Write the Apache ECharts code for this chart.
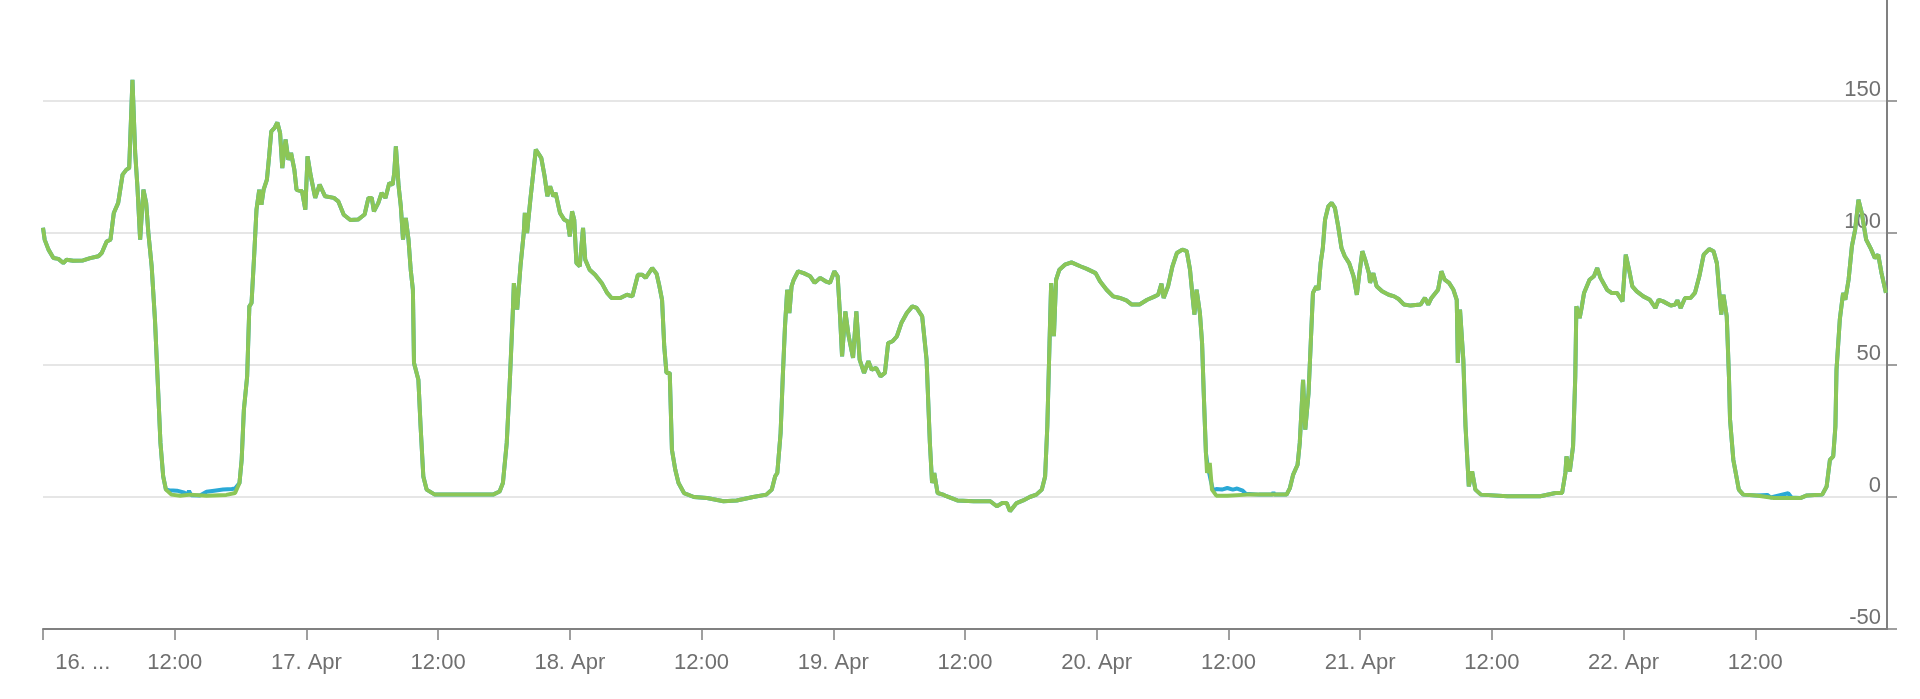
<!DOCTYPE html>
<html>
<head>
<meta charset="utf-8">
<script src="https://cdn.jsdelivr.net/npm/echarts@6/dist/echarts.min.js"></script>
<style>
    html, body { margin: 0; padding: 0; background: #fff; }
    #chart_power { width: 1920px; height: 699px; }
</style>
</head>
<body>
<div id="chart_power"></div>
<script>
// hours since 16 Apr 00:00, value
var greenPts = [
    [0.0,102],[0.15,97.5],[0.5,93.7],[0.95,90.5],[1.4,90.2],[1.85,88.6],[2.15,89.9],[2.75,89.5],[3.65,89.6],[4.3,90.5],
    [5.05,91.2],[5.35,92.4],[5.8,96.8],[6.15,97.5],[6.45,107.6],[6.85,111.4],[7.25,122.1],[7.6,124],[7.85,124.6],[8.15,158],
    [8.4,130.3],[8.6,117.7],[8.85,97.5],[9.15,116.4],[9.4,111.4],[9.6,100],[9.9,87.4],[10.2,67.2],[10.5,39.4],[10.7,20.5],
    [10.95,7.8],[11.2,2.8],[11.7,0.9],[12.5,0.5],[13.4,0.9],[14.9,0.5],[16.7,0.8],[17.5,1.5],[17.9,5.3],[18.1,14.1],
    [18.3,33],[18.6,45.7],[18.8,72.2],[19.0,73.5],[19.25,92.4],[19.45,108.8],[19.7,116.4],[19.9,110.7],[20.1,116.4],[20.4,120.2],
    [20.6,129],[20.8,138.5],[21.1,139.8],[21.35,141.9],[21.6,137.9],[21.8,124.6],[22.1,135.4],[22.35,127.8],[22.6,130.3],[22.9,124],
    [23.1,116.4],[23.6,115.8],[23.9,108.8],[24.1,129],[24.4,121.5],[24.8,113.3],[25.2,118.3],[25.7,113.9],[26.5,113.3],[26.9,112],
    [27.4,106.9],[28.0,104.9],[28.7,105.1],[29.3,107],[29.65,113.3],[29.95,113.3],[30.15,108.2],[30.55,111.4],[30.85,115.2],[31.2,113.3],
    [31.55,118.9],[31.85,118.3],[32.0,122.7],[32.15,132.8],[32.4,117.7],[32.6,110.1],[32.8,97.5],[33.05,105.7],[33.3,97.5],[33.5,86.1],
    [33.7,78.5],[33.8,50.8],[34.2,44.4],[34.4,26.8],[34.65,7.8],[34.95,2.8],[35.7,0.9],[37.7,0.9],[41.0,0.9],[41.6,2.1],
    [41.9,5.3],[42.25,20.5],[42.55,45.7],[42.8,69.7],[42.9,81],[43.2,71],[43.5,87.4],[43.8,100],[43.9,107.6],[44.1,100],
    [44.4,112.6],[44.7,124],[44.9,131.6],[45.2,129.7],[45.4,128.4],[45.7,121.5],[45.95,113.9],[46.2,117.7],[46.5,113.9],[46.7,115.2],
    [47.1,107.6],[47.5,105],[47.8,104.4],[48.0,98.7],[48.2,108.2],[48.4,105],[48.6,88.6],[48.9,87.4],[49.2,101.9],[49.4,89.9],
    [49.8,86.1],[50.3,84.2],[50.9,81.1],[51.4,77.3],[51.8,75.4],[52.6,75.4],[53.2,76.6],[53.7,76],[54.2,84.2],[54.6,84.2],
    [54.9,83],[55.5,86.7],[55.9,84.6],[56.15,80],[56.4,74.7],[56.6,57],[56.8,47],[57.1,47],[57.3,17.9],[57.6,10.4],
    [57.9,5.3],[58.4,1.5],[59.3,0],[60.5,-0.4],[62.0,-1.6],[63.2,-1.3],[64.7,0],[65.9,0.9],[66.4,2.8],[66.7,7.8],
    [66.9,9.1],[67.2,24.2],[67.4,45.7],[67.6,64.6],[67.8,78.5],[68.0,69.7],[68.2,79.8],[68.4,82.3],[68.8,85.5],[69.3,84.8],
    [69.9,83.6],[70.3,81.1],[70.8,83],[71.3,81.7],[71.7,81.1],[72.1,85.5],[72.4,83.6],[72.6,69.7],[72.8,53.3],[73.1,70.3],
    [73.4,60.9],[73.8,52.7],[74.1,70.3],[74.4,52],[74.8,47],[75.2,51.4],[75.5,48.2],[75.9,48.9],[76.3,45.7],[76.7,47],
    [77.0,58.3],[77.4,59],[77.8,60.9],[78.2,65.9],[78.7,69.7],[79.2,72.2],[79.6,71.6],[80.1,68.4],[80.5,52],[80.8,20.5],
    [81.0,5.3],[81.2,9.1],[81.5,1.5],[82.0,0.9],[82.3,0.3],[83.3,-1.3],[84.8,-1.6],[86.3,-1.6],[86.9,-3.5],[87.4,-2.3],
    [87.8,-2.3],[88.1,-5.4],[88.7,-2.3],[89.3,-1.3],[89.9,0],[90.5,0.9],[91.0,2.8],[91.3,7.8],[91.5,26.8],[91.7,58.3],
    [91.85,81],[92.1,60.9],[92.3,82.3],[92.6,86.1],[93.1,88],[93.7,88.9],[94.5,87.4],[95.1,86.4],[95.9,84.8],[96.3,81.7],
    [96.9,78.5],[97.5,76],[98.1,75.4],[98.7,74.5],[99.2,72.9],[99.9,72.9],[100.6,74.7],[101.2,75.8],[101.6,76.6],[101.9,80.8],
    [102.1,75.4],[102.5,79.8],[102.9,87.4],[103.3,92.4],[103.8,93.7],[104.2,93.1],[104.5,86.1],[104.7,77.3],[104.9,69.1],[105.1,78.5],
    [105.4,69.7],[105.6,58.3],[105.75,39.4],[105.95,16.7],[106.05,9.1],[106.3,12.9],[106.5,2.8],[106.9,0.5],[107.9,0.5],[109.7,0.9],
    [110.8,0.9],[112.1,0.9],[113.3,0.9],[113.6,3.4],[113.9,8.5],[114.3,12.2],[114.5,20.5],[114.8,44.4],[115.0,25.5],[115.3,39.4],
    [115.5,58.3],[115.7,77.3],[116.0,79.8],[116.2,78.5],[116.4,88.6],[116.6,94.3],[116.8,105],[117.1,110.1],[117.4,111.4],[117.7,109.5],
    [118.0,102.5],[118.3,94.3],[118.6,91.2],[119.0,88.6],[119.4,83.6],[119.7,76.6],[119.9,83.6],[120.2,93.1],[120.5,89.3],[120.8,84.8],
    [120.9,81.1],[121.2,84.8],[121.5,79.8],[122.0,77.9],[122.6,76.6],[123.1,76],[123.5,75],[124.0,72.9],[124.6,72.5],[125.5,72.9],
    [125.9,75.4],[126.2,72.9],[126.5,75.4],[127.1,78.5],[127.4,85.5],[127.7,82.3],[128.1,81.1],[128.5,78.5],[128.8,74.7],[128.9,50.8],
    [129.1,71],[129.4,52],[129.6,26.8],[129.9,4],[130.2,9.7],[130.5,2.8],[131.0,0.9],[133.4,0.3],[136.4,0.3],[137.8,1.5],
    [138.4,1.5],[138.7,9.1],[138.8,15.4],[139.1,9.7],[139.4,19.2],[139.6,45.7],[139.7,72.2],[140.0,67.8],[140.2,72.2],[140.4,77.3],
    [140.9,82.3],[141.3,83.6],[141.6,86.7],[141.9,83],[142.5,78.5],[142.9,77.3],[143.4,77.3],[143.9,74.1],[144.2,91.8],[144.5,86.1],
    [144.8,79.8],[145.2,77.9],[145.8,76],[146.4,74.7],[146.9,71.6],[147.2,74.7],[147.6,74.1],[148.3,72.5],[148.7,72.9],[148.9,74.5],
    [149.2,71.6],[149.6,75.4],[150.1,75.4],[150.5,77.3],[150.9,83.6],[151.3,91.8],[151.8,93.9],[152.2,93.1],[152.5,88.6],[152.7,78.5],
    [152.9,69.1],[153.1,76.6],[153.4,68.4],[153.6,45.7],[153.7,29.3],[154.0,14.1],[154.5,2.8],[154.9,0.9],[156.1,0.6],[157.7,-0.4],
    [158.9,-0.4],[160.1,-0.4],[160.7,0.6],[162.1,0.9],[162.5,4],[162.8,14.1],[163.1,15.4],[163.3,26.8],[163.4,48.2],[163.7,67.2],
    [164.0,77.3],[164.2,74.7],[164.5,82.3],[164.8,94.9],[165.1,101.3],[165.4,112.6],[165.7,107.6],[166.1,97.5],[166.5,94.3],[166.9,90.5],
    [167.2,91.8],[167.5,84.8],[167.9,77.3]
];

// blue readings where they differ from the green ones (nights)
var blueWindows = [[11.0, 17.8], [105.9, 109.7], [111.9, 112.3], [156.9, 159.5]];
var bluePts = [
    [11.2,2.8],[11.5,2.6],[12.2,2.4],[12.9,1.6],[13.1,0.6],[13.3,2.3],[13.5,0.7],[14.3,0.6],[14.9,2.0],[15.6,2.4],
    [16.4,2.8],[17.2,3.0],[17.5,3.2],
    [105.95,16.7],[106.1,12],[106.4,6],[106.6,2.5],[106.9,3.0],[107.4,2.8],[107.9,3.4],[108.4,2.8],[108.8,3.2],[109.3,2.4],[109.6,1.2],
    [112.0,0.9],[112.1,1.8],[112.2,0.9],
    [157.1,0.8],[157.4,-0.2],[159.0,1.4],[159.3,-0.2]
];

var yTicks = { min: -50, max: 200, step: 50 };
var HOUR = 3600 * 1000;
var dayStart = new Date(2018, 3, 16).getTime();
var dayEnd = dayStart + 168 * HOUR;

function toTime(p) {
    return [dayStart + p[0] * HOUR, p[1]];
}

var greenData = greenPts.map(toTime);
var blueData = greenPts.filter(function (p) {
    return !blueWindows.some(function (w) { return p[0] >= w[0] && p[0] <= w[1]; });
}).concat(bluePts).sort(function (a, b) { return a[0] - b[0]; }).map(toTime);

var myChart = echarts.init(document.getElementById('chart_power'));
var labelFont = { color: '#707070', fontSize: 22, fontFamily: 'Liberation Sans, Arial, sans-serif' };

myChart.setOption({
    animation: false,
    backgroundColor: '#fff',
    grid: {
        left: 43,
        right: 33,
        top: -31,
        bottom: 70,
        containLabel: false,
        outerBoundsMode: 'none'
    },
    xAxis: {
        type: 'value',
        min: dayStart,
        max: dayEnd,
        interval: 12 * HOUR,
        axisLine: { onZero: false, lineStyle: { color: '#808080', width: 2 } },
        axisTick: { show: true, length: 11, lineStyle: { color: '#808080', width: 1.5 } },
        splitLine: { show: false },
        axisLabel: Object.assign({
            margin: 23,
            alignMinLabel: 'left',
            showMaxLabel: false,
            formatter: function (val) {
                var d = new Date(val);
                if (val === dayStart) return '  16. ...';
                if (d.getHours() === 12) return '12:00';
                return d.getDate() + '. Apr';
            }
        }, labelFont)
    },
    yAxis: {
        type: 'value',
        position: 'right',
        min: yTicks.min,
        max: yTicks.max,
        interval: yTicks.step,
        axisLine: { show: true, lineStyle: { color: '#808080', width: 2 } },
        axisTick: { show: true, inside: false, length: 10, lineStyle: { color: '#808080', width: 1.5 } },
        splitLine: { show: true, lineStyle: { color: '#e6e6e6', width: 2 } },
        axisLabel: Object.assign({
            inside: true,
            margin: 6,
            verticalAlign: 'bottom',
            showMaxLabel: false
        }, labelFont)
    },
    series: [
        {
            name: 'blue',
            type: 'line',
            data: blueData,
            showSymbol: false,
            lineStyle: { color: '#2aa9d6', width: 4 },
            itemStyle: { color: '#2aa9d6' }
        },
        {
            name: 'green',
            type: 'line',
            data: greenData,
            showSymbol: false,
            lineStyle: { color: '#8cc657', width: 4 },
            itemStyle: { color: '#8cc657' }
        }
    ]
});
</script>
</body>
</html>
